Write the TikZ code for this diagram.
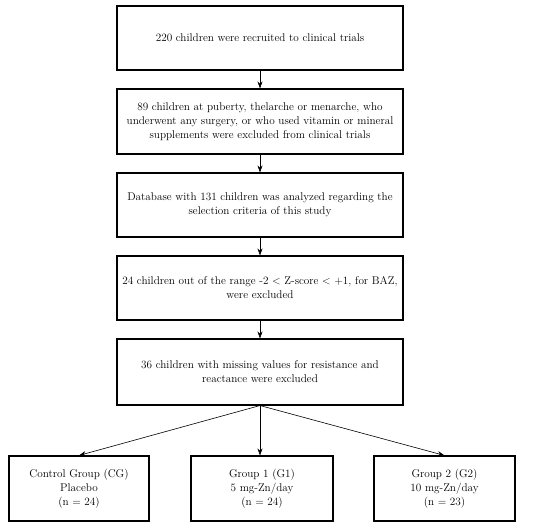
\documentclass[tikz,border=0pt]{standalone}
\usetikzlibrary{arrows.meta,shadows}
\tikzset{
  box/.style={draw=black, line width=1.1pt, fill=white, align=center, inner sep=0pt,
    font=\fontsize{11.2}{14}\selectfont,
    drop shadow={shadow xshift=1.2pt, shadow yshift=-1.2pt, fill=black!35, opacity=1}},
  conn/.style={-{Stealth[length=7pt,width=5pt]}, line width=0.6pt}
}
\begin{document}
\begin{tikzpicture}[x=1pt,y=-1pt]
\useasboundingbox (0,0) rectangle (550,527);
\node[box, minimum width=286pt, minimum height=64pt] (b1) at (260,38) {220 children were recruited to clinical trials};
\node[box, minimum width=286pt, minimum height=65pt] (b2) at (260,121.5) {89 children at puberty, thelarche or menarche, who\\underwent any surgery, or who used vitamin or mineral\\supplements were excluded from clinical trials};
\node[box, minimum width=286pt, minimum height=64pt] (b3) at (260,205) {Database with 131 children was analyzed regarding the\\selection criteria of this study};
\node[box, minimum width=286pt, minimum height=64pt] (b4) at (260,288) {24 children out of the range -2 {\textless} Z-score {\textless} +1, for BAZ,\\were excluded};
\node[box, minimum width=286pt, minimum height=66pt] (b5) at (260,372) {36 children with missing values for resistance and\\reactance were excluded};
\node[box, minimum width=140pt, minimum height=65pt] (g0) at (79,488.5) {Control Group (CG)\\Placebo\\(n = 24)};
\node[box, minimum width=142pt, minimum height=65pt] (g1) at (262,488.5) {Group 1 (G1)\\5 mg-Zn/day\\(n = 24)};
\node[box, minimum width=141pt, minimum height=65pt] (g2) at (444.5,488.5) {Group 2 (G2)\\10 mg-Zn/day\\(n = 23)};
\draw[conn] (b1) -- (b2);
\draw[conn] (b2) -- (b3);
\draw[conn] (b3) -- (b4);
\draw[conn] (b4) -- (b5);
\draw[conn] (b5.south) -- (g0.north);
\draw[conn] (b5.south) -- (b5.south |- g1.north);
\draw[conn] (b5.south) -- (g2.north);
\end{tikzpicture}
\end{document}
